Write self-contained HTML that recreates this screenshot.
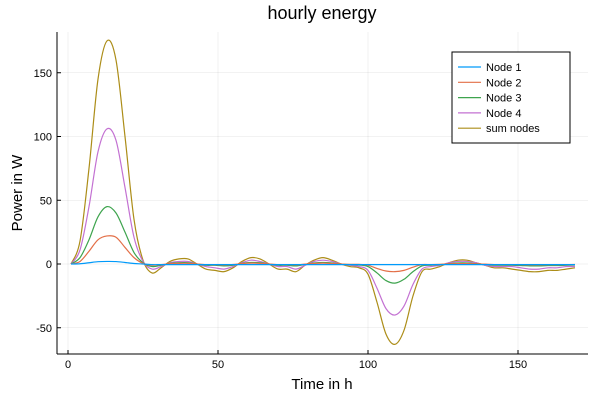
<!DOCTYPE html>
<html><head><meta charset="utf-8"><style>
body{margin:0;background:#fff;font-family:"Liberation Sans","DejaVu Sans",sans-serif;}
svg text{font-family:"Liberation Sans","DejaVu Sans",sans-serif;}
</style></head><body>
<svg id="chart" width="600" height="400">
<text x="322" y="19" font-size="18" text-anchor="middle" fill="#000">hourly energy</text>
<text x="322" y="389" font-size="15" text-anchor="middle" fill="#000">Time in h</text>
<text x="22" y="193" font-size="15" text-anchor="middle" fill="#000" transform="rotate(-90 22 193)">Power in W</text>
<g id="grid"></g>
<g id="axes"></g>
<g id="series"></g>
<g id="legend"></g>
</svg>
<script>
const hours = [1,4,7,10,13,16,19,22,25,28,31,34,37,40,43,46,49,52,55,58,61,64,67,70,73,76,79,82,85,88,91,94,97,100,103,106,109,112,115,118,121,124,127,130,133,136,139,142,145,148,151,154,157,160,163,166,169];
const node1 = [0,0.2,1,1.8,2,1.9,1.2,0.4,0,-0.5,-0.5,-0.5,-0.5,-0.5,-0.5,-0.5,-0.5,-0.5,-0.5,-0.5,-0.5,-0.5,-0.5,-0.5,-0.5,-0.5,-0.5,-0.5,-0.5,-0.5,-0.5,-0.5,-0.5,-0.5,-0.5,-0.5,-0.5,-0.5,-0.5,-0.5,-0.5,-0.5,-0.5,-0.5,-0.5,-0.5,-0.5,-0.5,-0.5,-0.5,-0.5,-0.5,-0.5,-0.5,-0.5,-0.5,-0.5];
const node2 = [0,2,10,19,22,21,13,5,0.5,-1,-0.5,0.3,0.5,0.5,0,-0.5,-0.6,-0.8,-0.4,0.3,0.7,0.5,0,-0.5,-0.5,-0.8,-0.1,0.4,0.7,0.4,0,-0.3,-0.3,-1,-3.5,-5.5,-6,-5,-2.5,-0.5,-0.5,-0.3,0.1,0.3,0.3,0.1,-0.1,-0.5,-0.5,-0.5,-0.6,-0.8,-0.8,-0.6,-0.6,-0.5,-0.4];
const node3 = [0,5,19,37,45,40,25,9,1,-2,-1,0.5,1,1,0,-1,-1,-1.5,-1,0.5,1.2,1,0,-1,-1,-1.5,-0.3,0.8,1.2,0.8,0,-0.5,-0.8,-2,-7,-13,-15,-12,-6,-1.5,-1,-0.5,0.3,0.8,0.8,0.3,-0.3,-1,-1,-1,-1.2,-1.5,-1.5,-1.2,-1.2,-1,-0.8];
const node4 = [0,11,45,88,106,97,60,21,2,-4,-2,1,2,2,0,-2,-3,-4,-2,1,3,2,0,-2,-2,-4,-1,2,3,2,0,-1,-2,-5,-19,-35,-40,-33,-16,-4,-2,-1,1,2,2,1,-1,-2,-2,-2,-3,-4,-4,-3,-3,-2,-2];
const sumNodes = [0,18,75,145,175,160,100,35,3,-7,-3,2,4,4,0,-4,-5,-6,-3,2,5,4,0,-4,-4,-6,-1,3,5,3,0,-2,-3,-8,-30,-55,-63,-52,-25,-6,-4,-2,1,3,3,1,-1,-3,-3,-4,-5,-6,-6,-5,-5,-4,-3];
const seriesNames = ["Node 1","Node 2","Node 3","Node 4","sum nodes"];
const xTicks = [0,50,100,150];
const yTicks = [-50,0,50,100,150];

const NS="http://www.w3.org/2000/svg";
const X0=57,X1=588,Y0=32,Y1=354;
function xs(v){return 68+v*3;}
function ys(v){return 264-v*1.275;}
function mk(tag,attrs,parent){const e=document.createElementNS(NS,tag);for(const k in attrs)e.setAttribute(k,attrs[k]);parent.appendChild(e);return e;}
const grid=document.getElementById('grid'),axes=document.getElementById('axes'),ser=document.getElementById('series'),leg=document.getElementById('legend');
xTicks.forEach(t=>{
  const g=mk('line',{x1:xs(t),x2:xs(t),y1:Y0,y2:Y1,stroke:'#000','stroke-opacity':0.1,'stroke-width':0.6},grid);
  
  
  const k=mk('line',{x1:xs(t),x2:xs(t),y1:Y1,y2:Y1-4,stroke:'#000','stroke-width':1},axes);
  
  
  const l=mk('text',{x:xs(t),y:Y1+14,'font-size':11,'text-anchor':'middle',fill:'#000'},axes);
  l.textContent=t;
  
  
});
yTicks.forEach(t=>{
  const g=mk('line',{x1:X0,x2:X1,y1:ys(t),y2:ys(t),stroke:'#000','stroke-opacity':0.1,'stroke-width':0.6},grid);
  
  
  const k=mk('line',{x1:X0,x2:X0+4,y1:ys(t),y2:ys(t),stroke:'#000','stroke-width':1},axes);
  
  
  const l=mk('text',{x:X0-5,y:ys(t)+4,'font-size':11,'text-anchor':'end',fill:'#000'},axes);
  l.textContent=t;
  
  
});
const ax1=mk('line',{x1:X0,x2:X0,y1:Y0,y2:Y1,stroke:'#000','stroke-width':1},axes);


const ax2=mk('line',{x1:X0,x2:X1,y1:Y1,y2:Y1,stroke:'#000','stroke-width':1},axes);



function smooth(vals){
  const p=vals.map((v,i)=>[xs(hours[i]),ys(v)]);
  let d='M'+p[0][0]+','+p[0][1];
  for(let i=0;i<p.length-1;i++){
    const p0=p[Math.max(0,i-1)],p1=p[i],p2=p[i+1],p3=p[Math.min(p.length-1,i+2)];
    const c1=[p1[0]+(p2[0]-p0[0])/6,p1[1]+(p2[1]-p0[1])/6];
    const c2=[p2[0]-(p3[0]-p1[0])/6,p2[1]-(p3[1]-p1[1])/6];
    d+=` C${c1[0]},${c1[1]} ${c2[0]},${c2[1]} ${p2[0]},${p2[1]}`;
  }
  return d;
}
const data=[node1,node2,node3,node4,sumNodes];
const colors=['#009AFA','#E36F47','#3EA44E','#C371D2','#AC8D18'];
const order=[4,3,2,1,0];
order.forEach(i=>{
  const p=mk('path',{d:smooth(data[i]),fill:'none',stroke:colors[i],'stroke-width':1.2},ser);
  
  
});
const box=mk('rect',{x:452,y:52,width:118,height:91,fill:'#fff',stroke:'#000','stroke-width':1},leg);


seriesNames.forEach((n,i)=>{
  const y=67+i*15.3;
  const l=mk('line',{x1:458,x2:481,y1:y,y2:y,stroke:colors[i],'stroke-width':1.2},leg);
  
  
  const t=mk('text',{x:486,y:y+4,'font-size':11,fill:'#000'},leg);
  t.textContent=n;
  
  
});
</script>
</body></html>
